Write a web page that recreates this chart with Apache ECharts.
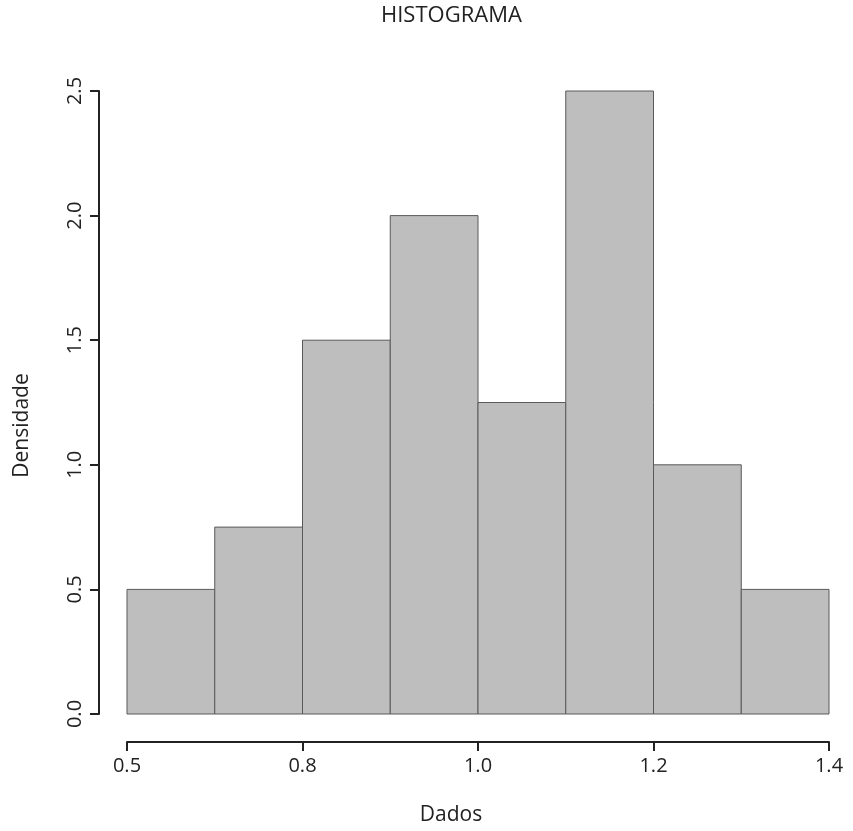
<!DOCTYPE html>
<html>
<head>
<meta charset="utf-8">
<script src="https://cdn.jsdelivr.net/npm/echarts@6/dist/echarts.min.js"></script>
<style>html,body{margin:0;padding:0;background:#fff;}#c{width:853px;height:831px;}</style>
</head>
<body>
<div id="c"></div>
<script>
var binStarts = [0.6, 0.7, 0.8, 0.9, 1.0, 1.1, 1.2, 1.3];
var binEnds   = [0.7, 0.8, 0.9, 1.0, 1.1, 1.2, 1.3, 1.4];
var densities = [0.5, 0.75, 1.5, 2.0, 1.25, 2.5, 1.0, 0.5];
var xTickPositions = [0.6, 0.8, 1.0, 1.2, 1.4];
var xTickLabels = ["0.5", "0.8", "1.0", "1.2", "1.4"];
var yTickLabels = ["0.0", "0.5", "1.0", "1.5", "2.0", "2.5"];

var FONT = "'Open Sans', sans-serif";
var TITLE = 'HISTOGRAMA';
var TITLE_SIZE = 22;

function textWidth(t, size) {
  var ctx = document.createElement('canvas').getContext('2d');
  ctx.font = size + "px 'Open Sans', sans-serif";
  return ctx.measureText(t).width;
}
var titleCenterX = 451.5;

var chart = echarts.init(document.getElementById('c'), null, {renderer: 'canvas'});
var data = binStarts.map(function (s, i) { return [s, binEnds[i], densities[i]]; });

function render() {
  chart.setOption({
    animation: false,
    backgroundColor: '#fff',
    title: {
      text: TITLE, left: Math.round(titleCenterX - textWidth(TITLE, TITLE_SIZE) / 2), top: 5, padding: 0,
      textStyle: {fontFamily: FONT, fontWeight: 'normal', fontSize: TITLE_SIZE, color: '#222'}
    },
    grid: {left: 127, right: 24, top: 91, bottom: 116, containLabel: false},
    xAxis: {
      type: 'value', min: 0.6, max: 1.4, interval: 0.2, offset: 28,
      name: 'Dados', nameLocation: 'middle', nameGap: 63,
      nameTextStyle: {fontFamily: FONT, fontSize: 21, color: '#222', padding: [0, 54, 0, 0]},
      axisLine: {show: true, onZero: false, lineStyle: {color: '#222', width: 2}},
      axisTick: {show: true, length: 9, lineStyle: {color: '#222', width: 2}},
      axisLabel: {
        fontFamily: FONT, fontSize: 20, color: '#222', margin: 14,
        formatter: function (v) {
          var best = 0;
          for (var i = 0; i < xTickPositions.length; i++) {
            if (Math.abs(xTickPositions[i] - v) < Math.abs(xTickPositions[best] - v)) best = i;
          }
          return xTickLabels[best];
        }
      },
      splitLine: {show: false}
    },
    yAxis: {
      type: 'value', min: 0, max: 2.5, interval: 0.5, offset: 28,
      name: 'Densidade', nameLocation: 'middle', nameGap: 66,
      nameTextStyle: {fontFamily: FONT, fontSize: 21, color: '#222', padding: [0, 46, 0, 0]},
      axisLine: {show: true, lineStyle: {color: '#222', width: 2}},
      axisTick: {show: true, length: 9, lineStyle: {color: '#222', width: 2}},
      axisLabel: {
        fontFamily: FONT, fontSize: 20, color: '#222', rotate: 90, margin: 14,
        formatter: function (v) { return yTickLabels[Math.round(v / 0.5)]; }
      },
      splitLine: {show: false}
    },
    series: [{
      type: 'custom',
      data: data,
      encode: {x: [0, 1], y: 2},
      renderItem: function (params, api) {
        var p0 = api.coord([api.value(0), api.value(2)]);
        var p1 = api.coord([api.value(1), 0]);
        return {
          type: 'rect',
          shape: {x: p0[0], y: p0[1], width: p1[0] - p0[0], height: p1[1] - p0[1]},
          style: {fill: '#bebebe', stroke: '#5a5a5a', lineWidth: 1}
        };
      }
    }]
  });
}
render();
if (document.fonts && document.fonts.ready) { document.fonts.ready.then(render); }
</script>
</body>
</html>
